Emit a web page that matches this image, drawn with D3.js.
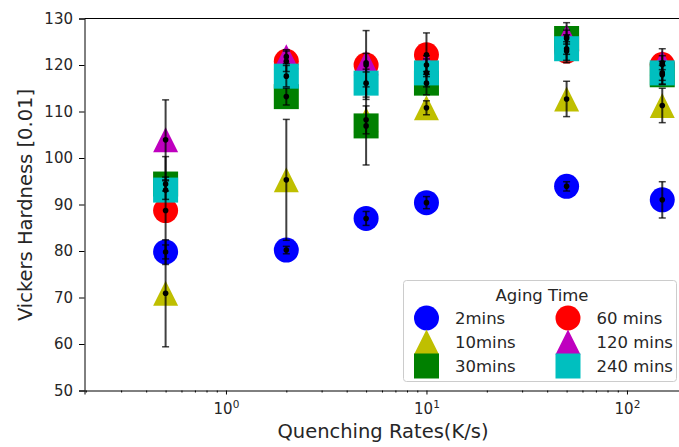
<!DOCTYPE html>
<html>
<head>
<meta charset="utf-8">
<title>Vickers Hardness vs Quenching Rate</title>
<script src="https://cdnjs.cloudflare.com/ajax/libs/d3/7.8.5/d3.min.js"></script>
<style>
  body { margin: 0; background: #fff; }
  svg, svg text { font-family: "DejaVu Sans", sans-serif; }
</style>
</head>
<body>
<svg class="chart" width="679" height="447"></svg>
<script>
// quenching rates (K/s)
var rates = [0.5, 2, 5, 10, 50, 150];

// hardness means and errors per aging time
var hv2    = [79.8, 80.2, 87.0, 90.4, 93.9, 91.0];
var err2   = [1.5, 0.8, 1.5, 1.3, 1.0, 3.9];
var hv10   = [70.9, 95.3, 108.2, 110.8, 112.7, 111.3];
var err10  = [11.5, 13.0, 3.0, 1.5, 3.8, 3.7];
var hv30   = [94.4, 113.2, 106.9, 116.1, 125.7, 117.9];
var err30  = [1.5, 1.8, 8.4, 2.5, 3.4, 2.0];
var hv60   = [88.7, 120.8, 120.0, 122.2, 123.0, 120.1];
var err60  = [11.6, 2.2, 7.4, 4.7, 2.0, 3.4];
var hv120  = [103.9, 121.8, 120.5, 120.0, 126.0, 120.5];
var err120 = [8.6, 1.5, 2.0, 2.0, 1.5, 1.5];
var hv240  = [93.1, 117.6, 116.1, 118.3, 123.5, 118.3];
var err240 = [2.0, 2.3, 3.0, 3.0, 3.0, 2.5];

var labels = ["2mins", "10mins", "30mins", "60 mins", "120 mins", "240 mins"];
var yTicks = [50, 60, 70, 80, 90, 100, 110, 120, 130];

var series = [
  {name: labels[0], hv: hv2,   err: err2,   color: "#0000ff", shape: "circle"},
  {name: labels[1], hv: hv10,  err: err10,  color: "#bfbf00", shape: "triangle"},
  {name: labels[2], hv: hv30,  err: err30,  color: "#008000", shape: "square"},
  {name: labels[3], hv: hv60,  err: err60,  color: "#ff0000", shape: "circle"},
  {name: labels[4], hv: hv120, err: err120, color: "#bf00bf", shape: "triangle"},
  {name: labels[5], hv: hv240, err: err240, color: "#00bfbf", shape: "square"}
];

var padL = 84.5, padT = 18.5, padB = 390.5;
var x = d3.scaleLog().domain([0.197, 200]).range([padL, padL + 200.5 * Math.log10(200 / 0.197)]);
var y = d3.scaleLinear().domain([50, 130]).range([padB, padT]);

var svg = d3.select(".chart");

function marker(sel, shape, color) {
  var s = 25;
  if (shape == "circle") {
    sel.append("circle").attr("r", s / 2).attr("fill", color);
  } else if (shape == "square") {
    sel.append("rect").attr("x", -s / 2).attr("y", -s / 2).attr("width", s).attr("height", s).attr("fill", color);
  } else {
    sel.append("path").attr("d", "M0," + (-s / 2) + "L" + (s / 2) + "," + (s / 2) + "L" + (-s / 2) + "," + (s / 2) + "Z").attr("fill", color);
  }
}

// markers
series.forEach(function(sr) {
  rates.forEach(function(r, i) {
    var g = svg.append("g").attr("transform", "translate(" + x(r) + "," + y(sr.hv[i]) + ")");
    marker(g, sr.shape, sr.color);
  });
});

// error bars on top
var eb = svg.append("g").attr("stroke", "#000").attr("stroke-opacity", 0.75);
series.forEach(function(sr) {
  rates.forEach(function(r, i) {
    var cx = x(r), y1 = y(sr.hv[i] + sr.err[i]), y2 = y(sr.hv[i] - sr.err[i]);
    eb.append("line").attr("x1", cx).attr("x2", cx).attr("y1", y1).attr("y2", y2).attr("stroke-width", 2);
    eb.append("line").attr("x1", cx - 3.5).attr("x2", cx + 3.5).attr("y1", y1).attr("y2", y1).attr("stroke-width", 1.5);
    eb.append("line").attr("x1", cx - 3.5).attr("x2", cx + 3.5).attr("y1", y2).attr("y2", y2).attr("stroke-width", 1.5);
    svg.append("circle").attr("cx", cx).attr("cy", y(sr.hv[i])).attr("r", 2.8).attr("fill", "#000");
  });
});

// axes
var xAxis = d3.axisBottom(x).tickValues([1, 10, 100]).tickSize(4).tickPadding(5).tickFormat("");
var gx = svg.append("g").attr("transform", "translate(0," + padB + ")").call(xAxis);
var minors = [];
[0.1, 1, 10, 100].forEach(function(d) {
  for (var k = 2; k < 10; k++) { var v = d * k; if (v > 0.197 && v < 200) minors.push(v); }
});
svg.append("g").attr("transform", "translate(0," + padB + ")")
  .call(d3.axisBottom(x).tickValues(minors).tickSize(2).tickFormat(""))
  .select(".domain").remove();
gx.selectAll(".tick").append("text")
  .attr("y", 23.5).attr("text-anchor", "middle").attr("fill", "#262626").attr("font-size", 15)
  .each(function(d) {
    var t = d3.select(this);
    t.append("tspan").text("10");
    t.append("tspan").attr("dy", -6).attr("font-size", 10.5).text(Math.round(Math.log10(d)));
  });

var gy = svg.append("g").attr("transform", "translate(" + padL + ",0)")
  .call(d3.axisLeft(y).tickValues(yTicks).tickSize(5.5).tickPadding(6));
gy.selectAll("text").attr("font-size", 15).attr("fill", "#262626");

// top spine
svg.append("line").attr("x1", padL).attr("x2", 679).attr("y1", padT).attr("y2", padT).attr("stroke", "#000");
svg.selectAll(".domain, .tick line").attr("stroke", "#000");

svg.append("text").attr("x", 383).attr("y", 438).attr("text-anchor", "middle")
  .attr("font-size", 19.5).attr("fill", "#262626").text("Quenching Rates(K/s)");
svg.append("text").attr("transform", "translate(25,205) rotate(-90)").attr("dy", "0.35em")
  .attr("text-anchor", "middle").attr("font-size", 19.5).attr("fill", "#262626").text("Vickers Hardness [0.01]");

// legend
var lg = svg.append("g");
lg.append("rect").attr("x", 403.5).attr("y", 280.5).attr("width", 273).attr("height", 101).attr("rx", 3)
  .attr("fill", "#fff").attr("fill-opacity", 0.85).attr("stroke", "#ccc");
lg.append("text").attr("x", 542).attr("y", 301).attr("text-anchor", "middle")
  .attr("font-size", 16.5).attr("fill", "#262626").text("Aging Time");
var rowY = [318, 342, 366];
series.forEach(function(sr, i) {
  var col = Math.floor(i / 3), row = i % 3;
  var mx = col ? 568 : 426.5;
  var g = lg.append("g").attr("transform", "translate(" + mx + "," + rowY[row] + ")");
  marker(g, sr.shape, sr.color);
  lg.append("text").attr("x", mx + 28.5).attr("y", rowY[row]).attr("dy", "0.36em")
    .attr("font-size", 16.5).attr("fill", "#262626").text(sr.name);
});
</script>
</body>
</html>
